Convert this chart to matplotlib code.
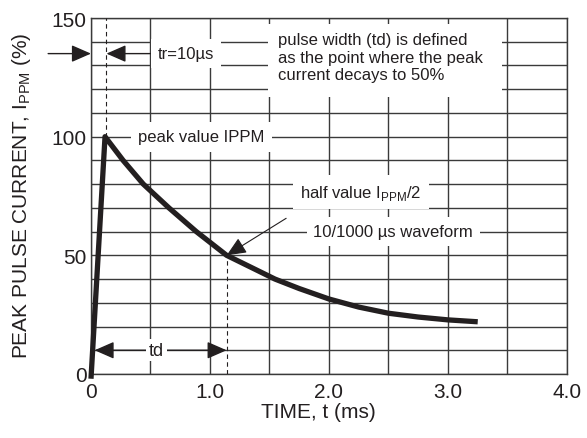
import numpy as np
import matplotlib
matplotlib.use('Agg')
import matplotlib.pyplot as plt
from matplotlib.patches import Rectangle

plt.rcParams['font.family'] = ['Liberation Sans', 'DejaVu Sans']
plt.rcParams['mathtext.fontset'] = 'custom'
plt.rcParams['mathtext.rm'] = 'Liberation Sans'

# waveform: time in ms, current in % of IPPM
time_ms = [0.0, 0.118, 0.27, 0.44, 0.655, 0.885, 1.14, 1.546, 1.75, 2.0,
           2.25, 2.5, 2.75, 3.0, 3.25]
current_pct = [-2, 100, 90, 80, 70, 60, 50, 40, 36.0, 31.6,
               28.2, 25.6, 24.0, 22.8, 22.0]

x_ticks = [0, 1, 2, 3, 4]
x_tick_labels = ['0', '1.0', '2.0', '3.0', '4.0']
y_ticks = [0, 50, 100, 150]

t_peak = 0.13     # dashed marker of the rise time
t_half = 1.14     # dashed marker of the half value

GRID = '#3a3a3a'
INK = '#231f20'

fig = plt.figure(figsize=(5.87, 4.39), dpi=100)
ax = fig.add_axes([0.155, 0.1458, 0.8109, 0.8109])

ax.set_xlim(0, 4)
ax.set_ylim(0, 150)
ax.set_xticks(x_ticks)
ax.set_xticklabels(x_tick_labels)
ax.set_xticks(np.arange(0, 4.01, 0.5), minor=True)
ax.set_yticks(y_ticks)
ax.set_yticks(np.arange(0, 151, 10), minor=True)
ax.tick_params(which='both', length=0, labelsize=15, colors=INK)
ax.tick_params(axis='x', pad=6)
ax.tick_params(axis='y', pad=3)
ax.grid(which='both', color=GRID, lw=1.0, zorder=0)
ax.set_axisbelow(True)
for s in ax.spines.values():
    s.set_color(GRID)
    s.set_linewidth(1.0)

# 波形
ax.plot(time_ms, current_pct, color=INK, lw=3.8, solid_capstyle='butt',
        solid_joinstyle='round', clip_on=False, zorder=5)

# dashed markers
ax.plot([t_peak, t_peak], [100, 150], color=INK, lw=0.8, ls=(0, (4, 3)), zorder=4)
ax.plot([t_half, t_half], [0, 50], color=INK, lw=0.8, ls=(0, (4, 3)), zorder=4)

ann_fs = 12

# tr arrows
head = dict(arrowstyle='-|>,head_length=0.8,head_width=0.35', color=INK, lw=1.0,
            mutation_scale=15, shrinkA=0, shrinkB=0)
ax.annotate('', xy=(0, 135), xytext=(-0.36, 135), arrowprops=head,
            annotation_clip=False, zorder=6)
ax.annotate('', xy=(t_peak, 135), xytext=(0.5, 135), arrowprops=head, zorder=6)
ax.text(0.56, 135, 'tr=10\u00b5s', fontsize=ann_fs, ha='left', va='center',
        color=INK, bbox=dict(facecolor='white', edgecolor='none',
                             boxstyle='square,pad=0.4'), zorder=7)

# pulse width note
ax.add_patch(Rectangle((1.49, 116.7), 1.96, 30.8, facecolor='white',
                       edgecolor='none', zorder=3))
ax.text(1.57, 133.5, 'pulse width (td) is defined\nas the point where the peak\ncurrent decays to 50%',
        fontsize=ann_fs, ha='left', va='center', color=INK, linespacing=1.2, zorder=7)

ax.text(0.93, 100, 'peak value IPPM', fontsize=ann_fs, ha='center', va='center',
        color=INK, bbox=dict(facecolor='white', edgecolor='none',
                             boxstyle='square,pad=0.45'), zorder=4)

ax.text(2.27, 76.5, 'half value I$_{\\rm PPM}$/2', fontsize=ann_fs, ha='center',
        va='center', color=INK, bbox=dict(facecolor='white', edgecolor='none',
                                          boxstyle='square,pad=0.45'), zorder=4)
ax.text(2.54, 60, '10/1000 \u00b5s waveform', fontsize=ann_fs, ha='center',
        va='center', color=INK, bbox=dict(facecolor='white', edgecolor='none',
                                          boxstyle='square,pad=0.4'), zorder=4)

# pointer to the half value
ax.annotate('', xy=(t_half, 50), xytext=(1.64, 65.6),
            arrowprops=dict(arrowstyle='-|>,head_length=0.8,head_width=0.35',
                            color=INK, lw=0.8, mutation_scale=15,
                            shrinkA=0, shrinkB=0), zorder=6)

# td
ax.annotate('', xy=(0.03, 10), xytext=(t_half, 10),
            arrowprops=dict(arrowstyle='<|-|>,head_length=0.8,head_width=0.35',
                            color=INK, lw=1.0, mutation_scale=15,
                            shrinkA=0, shrinkB=0), zorder=6)
ax.text(0.55, 10, 'td', fontsize=ann_fs + 1, ha='center', va='center', color=INK,
        bbox=dict(facecolor='white', edgecolor='none', boxstyle='square,pad=0.15'),
        zorder=7)

ax.set_xlabel('TIME, t (ms)', fontsize=15, color=INK)
ax.xaxis.set_label_coords(0.477, -0.104)
ax.xaxis.label.set_va('center')
ax.set_ylabel('PEAK PULSE CURRENT, I$_{\\rm PPM}$ (%)', fontsize=15, color=INK)
ax.yaxis.set_label_coords(-0.145, 0.503)
ax.yaxis.label.set_va('center')

fig.savefig('out.png', dpi=100)
